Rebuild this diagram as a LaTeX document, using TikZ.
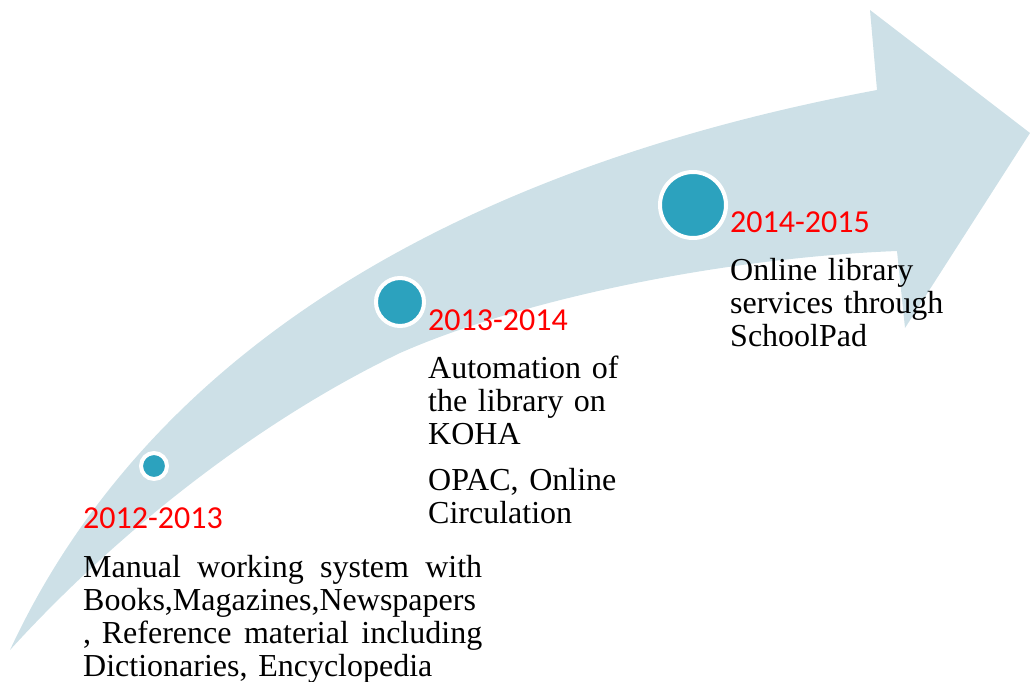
\documentclass[tikz,border=0pt]{standalone}
\usepackage{fontspec}
\setmainfont{Liberation Serif}
\newfontfamily\yearfont{Carlito}

\definecolor{arrowblue}{RGB}{205,224,231}
\definecolor{dotteal}{RGB}{44,162,190}

\tikzset{
  year/.style={anchor=base west, inner sep=0pt, text=red, font=\yearfont\fontsize{32}{38}\selectfont},
  info/.style={anchor=base west, inner sep=0pt, align=left, font=\fontsize{32}{33}\selectfont},
  dot/.style={circle, fill=dotteal, draw=white, line width=4pt, inner sep=0pt}
}

\begin{document}
\begin{tikzpicture}[x=1pt,y=-1pt]
    \useasboundingbox (0,0) rectangle (1030,682);

    \fill [arrowblue] (10,650) .. controls (175,295) and (555,150) .. (877,90)
        -- (870,10) -- (1030,133) -- (905,328) -- (897,251)
        .. controls (720,258) and (520,300) .. (400,353)
        .. controls (250,425) and (110,540) .. (10,650) -- cycle;

    \node [dot, minimum size=26pt] (p1) at (154,466) {};
    \node [dot, minimum size=48pt] (p2) at (400,302) {};
    \node [dot, minimum size=66pt] (p3) at (693,205) {};

    \node [year] (y1) at (83,528) {2012-2013};
    \node [info, text width=399pt] (desc1) at (83,577) {\makebox[\linewidth][l]{Manual\hfill working\hfill system\hfill with}\\ Books,Magazines,Newspapers\\ \makebox[\linewidth][l]{,\ Reference\hfill material\hfill including}\\ Dictionaries, Encyclopedia};

    \node [year] (y2) at (428,330) {2013-2014};
    \node [info, text width=200pt] (desc2) at (428,378) {Automation of\\ the library on\\ KOHA\\[13pt] OPAC, Online\\ Circulation};

    \node [year] (y3) at (730,232) {2014-2015};
    \node [info, text width=220pt] (desc3) at (730,280) {Online library\\ services through\\ SchoolPad};
\end{tikzpicture}
\end{document}
